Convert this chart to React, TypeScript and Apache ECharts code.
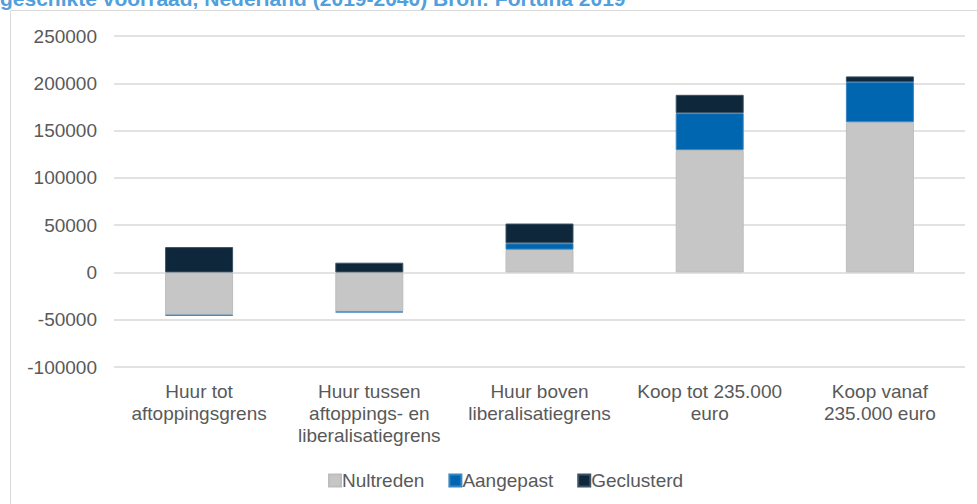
import React, { useEffect, useRef } from "react";
import * as echarts from "echarts";

const categories = [
  "Huur tot\naftoppingsgrens",
  "Huur tussen\naftoppings- en\nliberalisatiegrens",
  "Huur boven\nliberalisatiegrens",
  "Koop tot 235.000\neuro",
  "Koop vanaf\n235.000 euro",
];
const nultreden = [-45000, -41500, 24100, 129400, 158800];
const aangepast = [-700, -700, 6700, 39000, 42500];
const geclusterd = [26800, 10300, 20900, 19400, 6000];
const yTicks = { min: -100000, max: 250000, interval: 50000 };
const titleText = "geschikte voorraad, Nederland (2019-2040) Bron: Fortuna 2019";

const FONT = "Liberation Sans, Arial, sans-serif";
const TXT = "#595959";
const FS = 19;

export default function App() {
  const ref = useRef<HTMLDivElement>(null);
  useEffect(() => {
    if (!ref.current) return;
    const chart = echarts.init(ref.current, undefined, { renderer: "svg" });
    const mk = (name: string, data: number[], color: string, border: string) => ({
      name,
      type: "bar",
      stack: "total",
      data,
      barWidth: 68,
      itemStyle: { color, borderColor: border, borderWidth: 1 },
    });
    chart.setOption({
      animation: false,
      textStyle: { fontFamily: FONT },
      graphic: [
        {
          type: "rect",
          shape: { x: 10.5, y: 10.5, width: 1000, height: 600 },
          style: { fill: "none", stroke: "#D9D9D9", lineWidth: 1 },
          silent: true,
        },
        {
          type: "text",
          x: 0,
          y: 9,
          style: {
            text: titleText,
            font: `bold 21px ${FONT}`,
            fill: "#4FA0DC",
            verticalAlign: "bottom",
            align: "left",
          },
        },
      ],
      grid: { left: 114, right: 12, top: 36, bottom: 137, containLabel: false },
      legend: {
        top: 466,
        left: 323,
        itemWidth: 12,
        itemHeight: 12,
        itemGap: 24,
        icon: "rect",
        textStyle: { fontSize: FS, color: TXT, fontFamily: FONT, padding: [0, 0, 0, -4] },
        data: ["Nultreden", "Aangepast", "Geclusterd"],
      },
      xAxis: {
        type: "category",
        data: categories,
        axisLine: { show: false },
        axisTick: { show: false },
        axisLabel: {
          fontSize: FS,
          color: TXT,
          fontFamily: FONT,
          lineHeight: 22,
          margin: 13,
          interval: 0,
        },
      },
      yAxis: {
        type: "value",
        min: yTicks.min,
        max: yTicks.max,
        interval: yTicks.interval,
        axisLine: { show: false },
        axisTick: { show: false },
        axisLabel: {
          fontSize: FS,
          color: TXT,
          fontFamily: FONT,
          margin: 17,
          formatter: (v: number) => String(v),
        },
        splitLine: { lineStyle: { color: "#D9D9D9", width: 1.5 } },
      },
      series: [
        mk("Nultreden", nultreden, "#C6C6C6", "#BDBDBD"),
        mk("Aangepast", aangepast, "#0066B0", "#3A86C4"),
        mk("Geclusterd", geclusterd, "#0E273B", "#3C5366"),
      ],
    });
    return () => chart.dispose();
  }, []);
  return (
    <div
      ref={ref}
      style={{ position: "absolute", left: 0, top: 0, width: 977, height: 504, background: "#fff" }}
    />
  );
}
